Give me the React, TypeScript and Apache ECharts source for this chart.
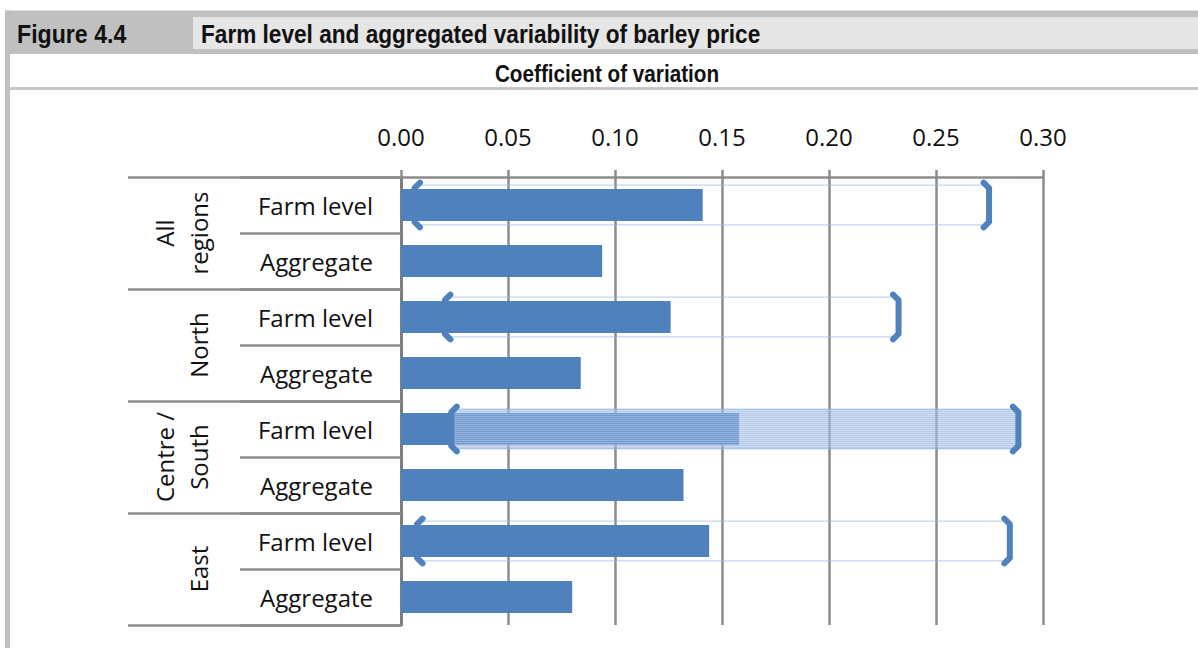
import React, { useEffect, useRef } from "react";
import * as echarts from "echarts";

// ---- data ----
const groupLabels = ["All\nregions", "North", "Centre /\nSouth", "East"];
const rowLabels = [
  "Farm level", "Aggregate",
  "Farm level", "Aggregate",
  "Farm level", "Aggregate",
  "Farm level", "Aggregate",
];
const cvValues = [0.141, 0.094, 0.126, 0.084, 0.158, 0.132, 0.144, 0.080];
// farm-level ranges (min / max coefficient of variation across farms)
const rangeRows = [0, 2, 4, 6];
const rangeLow = [0.0063, 0.0205, 0.0235, 0.0075];
const rangeHigh = [0.2748, 0.2325, 0.2885, 0.2845];
const shadedRange = 2; // Centre / South range drawn as filled band
const axisMin = 0;
const axisMax = 0.3;
const axisStep = 0.05;

const FIG_LABEL = "Figure 4.4";
const FIG_TITLE = "Farm level and aggregated variability of barley price";
const SUBTITLE = "Coefficient of variation";

const BLUE = "#4f81bd";
const GRID = "#8c8c8c";
const LABEL_FONT = "'Open Sans', 'Liberation Sans', sans-serif";
const HEAD_FONT = "'Liberation Sans', Arial, sans-serif";

export default function App() {
  const ref = useRef<HTMLDivElement>(null);

  useEffect(() => {
    document.body.style.margin = "0";
    if (!ref.current) return;
    const chart = echarts.init(ref.current, undefined, { renderer: "svg" });

    const rangeData = rangeRows.map((r, i) => [r, rangeLow[i], rangeHigh[i]]);

    const renderRange = (params: any, api: any) => {
      const cat = api.value(0);
      const p0 = api.coord([api.value(1), cat]);
      const p1 = api.coord([api.value(2), cat]);
      const band = api.size([0, 1])[1];
      const cy = p0[1];
      const boxH = band * 0.71;
      const brH = band * 0.8;
      const top = cy - boxH / 2;
      const bot = cy + boxH / 2;
      const bTop = cy - brH / 2;
      const bBot = cy + brH / 2;
      const shaded = params.dataIndex === shadedRange;
      const children: any[] = [];
      children.push({
        type: "rect",
        shape: { x: p0[0], y: top, width: p1[0] - p0[0], height: boxH },
        style: {
          fill: shaded ? "rgba(133,170,221,0.585)" : "none",
          stroke: "rgba(150,185,230,0.75)",
          lineWidth: 1,
        },
      });
      if (shaded) {
        for (let y = top + 1.5; y < bot - 0.5; y += 2) {
          children.push({
            type: "line",
            shape: { x1: p0[0], y1: y, x2: p1[0], y2: y },
            style: { stroke: "rgba(255,255,255,0.3)", lineWidth: 1 },
          });
        }
      }
      const c = 5.5;
      children.push({
        type: "polyline",
        shape: {
          points: [
            [p0[0] + c, bTop],
            [p0[0], bTop + c],
            [p0[0], bBot - c],
            [p0[0] + c, bBot],
          ],
        },
        style: { stroke: BLUE, lineWidth: 6, fill: "none", lineJoin: "round", lineCap: "round" },
      });
      children.push({
        type: "polyline",
        shape: {
          points: [
            [p1[0] - c, bTop],
            [p1[0], bTop + c],
            [p1[0], bBot - c],
            [p1[0] - c, bBot],
          ],
        },
        style: { stroke: BLUE, lineWidth: 6, fill: "none", lineJoin: "round", lineCap: "round" },
      });
      return { type: "group", children };
    };

    chart.setOption({
      animation: false,
      backgroundColor: "#ffffff",
      grid: { left: 401, right: 155, top: 177, bottom: 23, containLabel: false },
      xAxis: {
        type: "value",
        position: "top",
        min: axisMin,
        max: axisMax,
        interval: axisStep,
        axisLine: { show: true, lineStyle: { color: GRID, width: 2.5 } },
        axisTick: { show: true, inside: false, length: 7, lineStyle: { color: GRID, width: 2.5 } },
        splitLine: { show: true, lineStyle: { color: GRID, width: 2.5 } },
        axisLabel: {
          margin: 29,
          fontSize: 24,
          fontFamily: LABEL_FONT,
          color: "#111",
          formatter: (v: number) => v.toFixed(2),
        },
      },
      yAxis: [
        {
          type: "category",
          data: rowLabels,
          inverse: true,
          position: "left",
          axisLine: { show: true, lineStyle: { color: "#7f7f7f", width: 3 } },
          axisTick: { show: true, length: 161, lineStyle: { color: GRID, width: 2.5 } },
          axisLabel: { interval: 0, margin: 28, fontSize: 24, fontFamily: LABEL_FONT, color: "#111" },
        },
        {
          type: "category",
          data: groupLabels,
          inverse: true,
          position: "left",
          axisLine: { show: false },
          axisTick: { show: true, interval: 0, length: 273, lineStyle: { color: GRID, width: 2.5 } },
          axisLabel: {
            interval: 0,
            rotate: 90,
            margin: 186,
            fontSize: 24,
            lineHeight: 34,
            fontFamily: LABEL_FONT,
            color: "#111",
          },
        },
      ],
      series: [
        {
          type: "bar",
          yAxisIndex: 0,
          data: cvValues,
          barWidth: 32,
          itemStyle: { color: BLUE },
        },
        {
          type: "custom",
          yAxisIndex: 0,
          data: rangeData,
          encode: { y: 0, x: [1, 2] },
          renderItem: renderRange,
          z: 5,
        },
      ],
      graphic: [
        { type: "rect", shape: { x: 5, y: 10.5, width: 1193, height: 43.5 }, style: { fill: "#c0c0c0" }, silent: true },
        { type: "rect", shape: { x: 5, y: 10.5, width: 5, height: 640 }, style: { fill: "#c0c0c0" }, silent: true },
        { type: "rect", shape: { x: 193, y: 17, width: 1005, height: 32 }, style: { fill: "#e6e6e6" }, silent: true },
        {
          type: "text",
          x: 17,
          y: 34,
          scaleX: 0.89,
          style: { text: FIG_LABEL, font: `bold 26px ${HEAD_FONT}`, fill: "#111", textAlign: "left", textVerticalAlign: "middle" },
        },
        {
          type: "text",
          x: 201,
          y: 34,
          scaleX: 0.87,
          style: { text: FIG_TITLE, font: `bold 26px ${HEAD_FONT}`, fill: "#111", textAlign: "left", textVerticalAlign: "middle" },
        },
        {
          type: "text",
          x: 607,
          y: 74,
          scaleX: 0.9,
          style: { text: SUBTITLE, font: `bold 23px ${HEAD_FONT}`, fill: "#111", textAlign: "center", textVerticalAlign: "middle" },
        },
        { type: "line", shape: { x1: 10, y1: 88.5, x2: 1198, y2: 88.5 }, style: { stroke: "#c8c8c8", lineWidth: 3 }, silent: true },
      ],
    });

    return () => chart.dispose();
  }, []);

  return <div ref={ref} style={{ width: 1198, height: 648 }} />;
}
